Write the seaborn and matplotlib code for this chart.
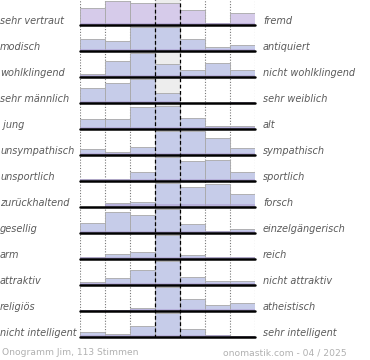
import numpy as np
import pandas as pd
import matplotlib
matplotlib.use('Agg')
import matplotlib.pyplot as plt
import seaborn as sns

sns.set_theme(style='white')
plt.rcParams['font.family'] = ['DejaVu Sans']

# word pairs (left / right) and bar heights per bin
LEFT = ['sehr vertraut', 'modisch', 'wohlklingend', 'sehr männlich', ' jung',
        'unsympathisch', 'unsportlich', 'zurückhaltend', 'gesellig', 'arm',
        'attraktiv', 'religiös', 'nicht intelligent']
RIGHT = ['fremd', 'antiquiert', 'nicht wohlklingend', 'sehr weiblich', 'alt',
         'sympathisch', 'sportlich', 'forsch', 'einzelgängerisch', 'reich',
         'nicht attraktiv', 'atheistisch', 'sehr intelligent']
VALUES = [
    [16.7, 24.0, 22.3, 21.7, 15.3, 2.3, 12.3],
    [12.3, 10.3, 24.3, 24.3, 12.3, 4.3, 5.7],
    [3.3, 16.0, 24.5, 13.3, 7.3, 14.3, 6.7],
    [15.3, 20.3, 24.5, 10.0, 0.0, 0.0, 1.0],
    [10.3, 10.3, 21.7, 23.5, 11.3, 3.0, 3.0],
    [6.0, 3.0, 8.3, 24.5, 24.5, 17.3, 7.0],
    [1.7, 1.7, 9.3, 24.0, 20.0, 21.3, 9.3],
    [0.0, 3.7, 5.3, 24.5, 20.3, 23.0, 12.7],
    [9.7, 20.7, 18.3, 24.0, 8.7, 2.3, 4.3],
    [2.3, 5.3, 6.7, 24.0, 4.0, 1.7, 2.3],
    [2.7, 6.7, 14.7, 24.0, 7.7, 4.3, 4.3],
    [1.3, 1.3, 2.7, 24.0, 12.3, 6.3, 7.7],
    [5.0, 3.3, 11.3, 24.0, 8.3, 2.3, 0.6],
]
BINS = ['1', '2', '3', '4', '5', '6', '7']
FOOT_LEFT = 'Onogramm Jim, 113 Stimmen'
FOOT_RIGHT = 'onomastik.com - 04 / 2025'

W, H = 370, 360
X0, X1 = 80, 255
fig = plt.figure(figsize=(W / 100, H / 100), dpi=100)
fig.patch.set_facecolor('white')


def rect(x0, y_top, w, h):
    return [x0 / W, 1 - (y_top + h) / H, w / W, h / H]


# background: grey middle column and dotted separators
bg = fig.add_axes(rect(X0, 0, X1 - X0, 338))
bg.set_xlim(-0.5, 6.5)
bg.set_ylim(0, 1)
bg.axvspan(2.5, 3.5, color='#ededed', lw=0)
for xv in [-0.5, 0.5, 1.5, 4.5, 5.5, 6.5]:
    bg.axvline(xv, color='#777777', ls=(0, (1, 1.5)), lw=0.8)
bg.axis('off')

for i, vals in enumerate(VALUES):
    base = 25 + 26 * i
    ax = fig.add_axes(rect(X0, base - 25, X1 - X0, 25))
    ax.patch.set_alpha(0)
    col = '#d6cbea' if i == 0 else '#c6cce9'
    df = pd.DataFrame({'bin': BINS, 'v': vals})
    sns.barplot(data=df, x='bin', y='v', color=col, saturation=1, width=1,
                edgecolor='#a8a8a8', linewidth=0.6, ax=ax)
    low = pd.DataFrame({'bin': BINS, 'v': np.minimum(vals, 2.5)})
    sns.barplot(data=low, x='bin', y='v', color='#ad9fd2', saturation=1,
                width=1, linewidth=0, alpha=0.6, ax=ax)
    ax.axhline(0, color='black', lw=1.8, clip_on=False)
    ax.set_xlim(-0.5, 6.5)
    ax.set_ylim(0, 25)
    ax.axis('off')

    fig.text(0 / W, 1 - (base - 1.5) / H, LEFT[i], ha='left', va='baseline',
             fontsize=7, style='italic', color='#5a5a5a')
    fig.text(263 / W, 1 - (base - 1.5) / H, RIGHT[i], ha='left', va='baseline',
             fontsize=7, style='italic', color='#5a5a5a')

# dashed lines around the middle column on top
top = fig.add_axes(rect(X0, 0, X1 - X0, 338))
top.set_xlim(-0.5, 6.5)
top.set_ylim(0, 1)
for xv in [2.5, 3.5]:
    top.axvline(xv, color='black', ls=(0, (3, 2)), lw=0.9)
top.axis('off')

fig.text(2 / W, 1 - 355 / H, FOOT_LEFT, ha='left', va='baseline',
         fontsize=6.6, color='#b0b0b0')
fig.text(347 / W, 1 - 355 / H, FOOT_RIGHT, ha='right', va='baseline',
         fontsize=6.6, color='#b0b0b0')

fig.savefig('out.png', dpi=100)
